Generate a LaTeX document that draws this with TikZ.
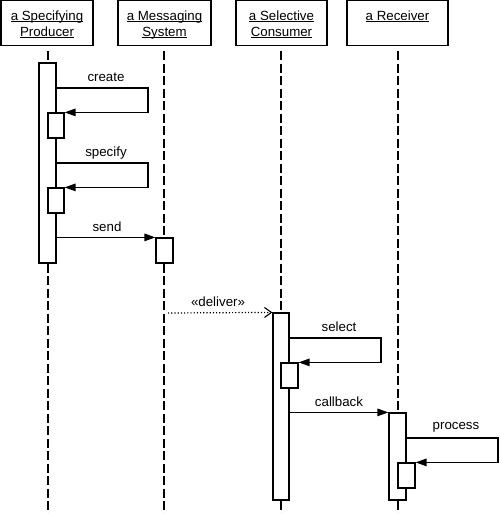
\documentclass[tikz,border=0pt]{standalone}
\usepackage{fontspec}
\setmainfont{Liberation Sans}
\usetikzlibrary{arrows.meta}
\newcommand\uln[1]{\setbox0\hbox{#1}\rlap{\rule[-1.6pt]{\wd0}{0.8pt}}\box0}
\begin{document}
\begin{tikzpicture}[x=1pt,y=-1pt,
  every node/.style={font=\fontsize{13.3}{16}\selectfont},
  head/.style={draw,line width=1.5pt,inner sep=0pt},
  htext/.style={inner sep=0pt,align=center},
  life/.style={line width=1.3pt,dash pattern=on 9pt off 3.5pt},
  act/.style={draw,fill=white,line width=1.2pt,inner sep=0pt},
  msg/.style={line width=1.3pt,-{Triangle[length=11pt,width=7.5pt]}},
  async/.style={line width=1.2pt,dotted,-{Straight Barb[length=7pt,width=10pt,line width=1.1pt]}},
  lbl/.style={inner sep=0pt}]
\useasboundingbox (0,0) rectangle (500,514);
% headers
\node[head,minimum width=92pt,minimum height=45pt] (h1) at (47,23.2) {};
\node[head,minimum width=93pt,minimum height=45pt] (h2) at (164.5,23.2) {};
\node[head,minimum width=91pt,minimum height=45pt] (h3) at (281.5,23.2) {};
\node[head,minimum width=101pt,minimum height=45pt] (h4) at (397.5,23.2) {};
\node[htext,anchor=north] (t1) at ([yshift=-10.3pt]h1.north) {\uln{a Specifying}\\\uln{Producer}};
\node[htext,anchor=north] (t2) at ([yshift=-10.3pt]h2.north) {\uln{a Messaging}\\\uln{System}};
\node[htext,anchor=north] (t3) at ([yshift=-10.3pt]h3.north) {\uln{a Selective}\\\uln{Consumer}};
\node[htext,anchor=north] (t4) at ([yshift=-10.3pt]h4.north) {\uln{a Receiver}};
% lifelines
\coordinate (e1) at (48,514);
\coordinate (e2) at (164,514);
\coordinate (e3) at (281,514);
\coordinate (e4) at (398,514);
\draw[life] (e1 |- 0,51) -- (e1);
\draw[life] (e2 |- 0,51) -- (e2);
\draw[life] (e3 |- 0,51) -- (e3);
\draw[life] (e4 |- 0,51) -- (e4);
% activations
\node[act,minimum width=17pt,minimum height=200pt] (a1) at (47.5,163) {};
\node[act,minimum width=16pt,minimum height=25pt] (c1) at (56,125.5) {};
\node[act,minimum width=16pt,minimum height=25pt] (c2) at (56,200.5) {};
\node[act,minimum width=17pt,minimum height=25pt] (a2) at (164.5,250.5) {};
\node[act,minimum width=16pt,minimum height=187pt] (a3) at (281,406.5) {};
\node[act,minimum width=17pt,minimum height=25pt] (c3) at (289.5,375.5) {};
\node[act,minimum width=17pt,minimum height=87pt] (a4) at (397.5,456.5) {};
\node[act,minimum width=17pt,minimum height=25pt] (c4) at (406.5,475.5) {};
% messages
\coordinate (k1) at (148,88);
\draw[msg] (a1.east |- k1) -- (k1) -- (k1 |- c1.north) -- (c1.north east);
\node[lbl] (l1) at (106,77) {create};
\coordinate (k2) at (148,163);
\draw[msg] (a1.east |- k2) -- (k2) -- (k2 |- c2.north) -- (c2.north east);
\node[lbl] (l2) at (106,153) {specify};
\draw[msg] (a1.east |- a2.north) -- (a2.north west);
\node[lbl] (l3) at (107,227) {send};
\coordinate (d0) at (168,313);
\draw[async] (d0) -- (a3.north west);
\node[lbl] (l4) at (218,302) {«deliver»};
\coordinate (k3) at (381,338);
\draw[msg] (a3.east |- k3) -- (k3) -- (k3 |- c3.north) -- (c3.north east);
\node[lbl] (l5) at (339,327) {select};
\draw[msg] (a3.east |- a4.north) -- (a4.north west);
\node[lbl] (l6) at (339,402) {callback};
\coordinate (k4) at (498,438);
\draw[msg] (a4.east |- k4) -- (k4) -- (k4 |- c4.north) -- (c4.north east);
\node[lbl] (l7) at (456,427) {process};
\end{tikzpicture}
\end{document}
